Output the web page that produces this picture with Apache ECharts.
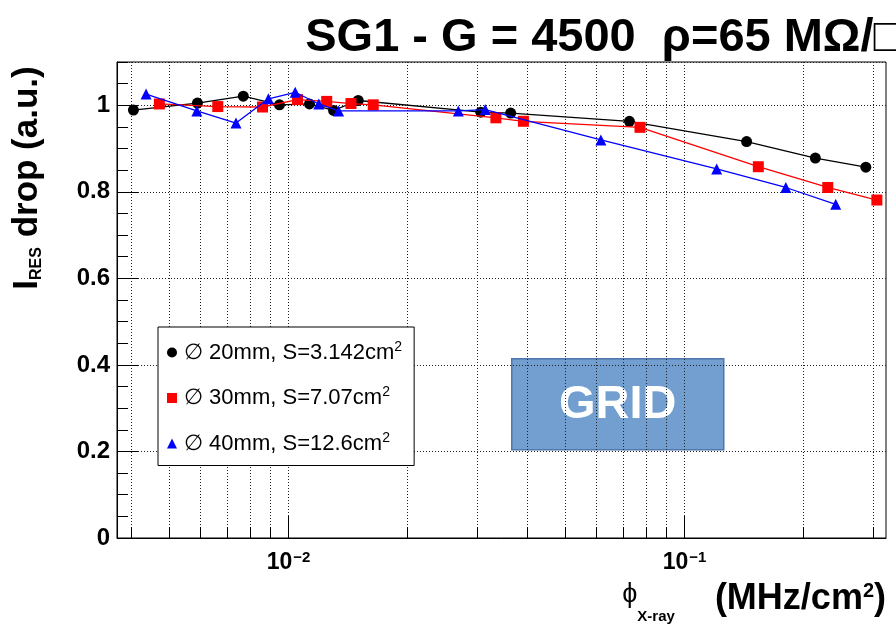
<!DOCTYPE html>
<html>
<head>
<meta charset="utf-8">
<script src="https://cdn.jsdelivr.net/npm/echarts@6/dist/echarts.min.js"></script>
<style>
html,body{margin:0;padding:0;background:#fff;}
#chart{width:896px;height:625px;}
</style>
</head>
<body>
<div id="chart"></div>
<script>
// X-ray flux (MHz/cm2) and normalised I_RES for each collimator
const flux20 = [0.00406, 0.00589, 0.00769, 0.00949, 0.0113, 0.0130, 0.0150, 0.0306, 0.0364, 0.0726, 0.1435, 0.214, 0.287];
const drop20 = [0.989, 1.005, 1.021, 1.001, 1.003, 0.988, 1.011, 0.984, 0.982, 0.963, 0.916, 0.878, 0.857];

const flux30 = [0.00472, 0.00663, 0.00860, 0.01054, 0.01249, 0.01438, 0.01637, 0.0334, 0.0392, 0.0772, 0.1536, 0.230, 0.306];
const drop30 = [1.003, 0.997, 0.996, 1.013, 1.009, 1.004, 1.001, 0.971, 0.963, 0.949, 0.858, 0.810, 0.781];

const flux40 = [0.00437, 0.00587, 0.00737, 0.00890, 0.01040, 0.01193, 0.01338, 0.02685, 0.0314, 0.0615, 0.1206, 0.1802, 0.2409];
const drop40 = [1.026, 0.987, 0.959, 1.015, 1.030, 1.003, 0.987, 0.987, 0.990, 0.920, 0.853, 0.810, 0.771];

const seriesNames = ['∅ 20mm, S=3.142cm', '∅ 30mm, S=7.07cm', '∅ 40mm, S=12.6cm'];

// axis ticks
const xTicks = [0.004, 0.005, 0.006, 0.007, 0.008, 0.009, 0.01, 0.02, 0.03, 0.04, 0.05, 0.06, 0.07, 0.08, 0.09, 0.1, 0.2, 0.3];
const xLabelTicks = [0.01, 0.1];
const xMin = 0.00369, xMax = 0.3227;
const yMin = 0, yMax = 1.1;

const FONT = '"Liberation Sans", Arial, Helvetica, sans-serif';
const chart = echarts.init(document.getElementById('chart'), null, {renderer: 'canvas'});

function pts(xs, ys) {
    return xs.map((x, i) => [x, ys[i]]);
}

const dotted = {color: '#222', width: 1, type: [1, 2]};
const lgMin = Math.log10(xMin), lgMax = Math.log10(xMax);

chart.setOption({
    animation: false,
    backgroundColor: '#fff',
    grid: {left: 117, right: 10, top: 62, bottom: 87, show: true, borderColor: '#000', borderWidth: 1, outerBoundsMode: 'none'},
    legend: {
        orient: 'vertical',
        left: 158, top: 327,
        padding: [13, 12, 11, 9],
        itemGap: 22,
        itemWidth: 10, itemHeight: 10,
        backgroundColor: '#fff',
        borderColor: '#000', borderWidth: 1,
        textStyle: {fontFamily: FONT, fontSize: 22, color: '#000', lineHeight: 22, padding: [0, 0, 0, 2],
            rich: {sup: {fontFamily: FONT, fontSize: 14, color: '#000', padding: [0, 0, 11, 0]}}},
        formatter: name => name + '{sup|2}',
        data: [
            {name: seriesNames[0], icon: 'circle'},
            {name: seriesNames[1], icon: 'rect'},
            {name: seriesNames[2], icon: 'triangle'}
        ]
    },
    xAxis: [
        {type: 'log', min: xMin, max: xMax, show: false},
        {   // minor ticks + grid
            type: 'value', min: lgMin, max: lgMax, position: 'bottom',
            axisLine: {show: true, lineStyle: {color: '#000', width: 1}},
            axisTick: {show: true, inside: true, length: 11, customValues: xTicks.map(v => Math.log10(v)), lineStyle: {color: '#000'}},
            axisLabel: {show: false},
            splitLine: {show: true, lineStyle: dotted}
        },
        {   // decades
            type: 'value', min: lgMin, max: lgMax, position: 'bottom',
            axisLine: {show: false},
            axisTick: {show: true, inside: true, length: 22, customValues: xLabelTicks.map(v => Math.log10(v)), lineStyle: {color: '#000'}},
            splitLine: {show: false},
            axisLabel: {
                show: true, margin: 12,
                customValues: xLabelTicks.map(v => Math.log10(v)),
                formatter: v => '{b|10}{sup|−' + Math.abs(Math.round(v)) + '}',
                rich: {
                    b: {fontFamily: FONT, fontWeight: 'bold', fontSize: 23, color: '#000'},
                    sup: {fontFamily: FONT, fontWeight: 'bold', fontSize: 15, color: '#000', padding: [0, 0, 10, 1]}
                }
            }
        }
    ],
    yAxis: [
        {
            type: 'value', min: yMin, max: yMax, interval: 0.2, position: 'left',
            axisLine: {show: true, lineStyle: {color: '#000', width: 1}},
            axisTick: {show: true, inside: true, length: 21, lineStyle: {color: '#000'}},
            axisLabel: {fontFamily: FONT, fontWeight: 'bold', fontSize: 24, color: '#000', margin: 7, showMaxLabel: false,
                formatter: v => String(+v.toFixed(1))},
            splitLine: {show: true, lineStyle: dotted}
        },
        {
            type: 'value', min: yMin, max: yMax, interval: 0.05, position: 'left',
            axisLine: {show: false},
            axisTick: {show: true, inside: true, length: 11, lineStyle: {color: '#000'}},
            axisLabel: {show: false},
            splitLine: {show: false}
        }
    ],
    series: [
        {name: seriesNames[0], type: 'line', data: pts(flux20, drop20), symbol: 'circle', symbolSize: 11,
            itemStyle: {color: '#000'}, lineStyle: {color: '#000', width: 1.3}, z: 3},
        {name: seriesNames[1], type: 'line', data: pts(flux30, drop30), symbol: 'rect', symbolSize: 11,
            itemStyle: {color: '#ff0000'}, lineStyle: {color: '#ff0000', width: 1.3}, z: 4},
        {name: seriesNames[2], type: 'line', data: pts(flux40, drop40), symbol: 'triangle', symbolSize: 11,
            itemStyle: {color: '#0000ff'}, lineStyle: {color: '#0000ff', width: 1.3}, z: 5}
    ],
    graphic: [
        {
            type: 'text', right: -6, top: 15, z: 10,
            style: {text: 'SG1 - G = 4500  ρ=65 MΩ/□', font: 'bold 47px ' + FONT, fill: '#000'}
        },
        {
            type: 'text', x: 37, y: 178, rotation: Math.PI / 2, z: 10,
            style: {
                text: '{b|I}{sub|RES}{b| drop (a.u.)}',
                align: 'center', verticalAlign: 'middle',
                rich: {
                    b: {fontFamily: FONT, fontWeight: 'bold', fontSize: 35, fill: '#000', padding: [0, 0, 20, 0]},
                    sub: {fontFamily: FONT, fontWeight: 'bold', fontSize: 16, fill: '#000'}
                }
            }
        },
        {
            type: 'text', x: 886, y: 617, z: 10,
            style: {
                text: '{phi|ϕ}{sub|X-ray}{m|    (MHz/cm}{sup|2}{m|)}',
                align: 'right', verticalAlign: 'middle',
                rich: {
                    phi: {fontFamily: FONT, fontSize: 27, fill: '#000', padding: [0, 0, 44, 0]},
                    sub: {fontFamily: FONT, fontWeight: 'bold', fontSize: 15, fill: '#000'},
                    m: {fontFamily: FONT, fontWeight: 'bold', fontSize: 36, fill: '#000', padding: [0, 0, 36, 0]},
                    sup: {fontFamily: FONT, fontWeight: 'bold', fontSize: 20, fill: '#000', padding: [0, 0, 52, 0]}
                }
            }
        },
        {
            type: 'group', left: 511, top: 358, z: 10,
            children: [
                {type: 'rect', shape: {x: 0, y: 0, width: 212, height: 91},
                    style: {fill: '#729fcf', stroke: '#4f77ad', lineWidth: 1.5}},
                {type: 'text', x: 106, y: 46,
                    style: {text: 'GRID', font: 'bold 47px ' + FONT, fill: '#fff', align: 'center', verticalAlign: 'middle'}}
            ]
        }
    ]
});
</script>
</body>
</html>
